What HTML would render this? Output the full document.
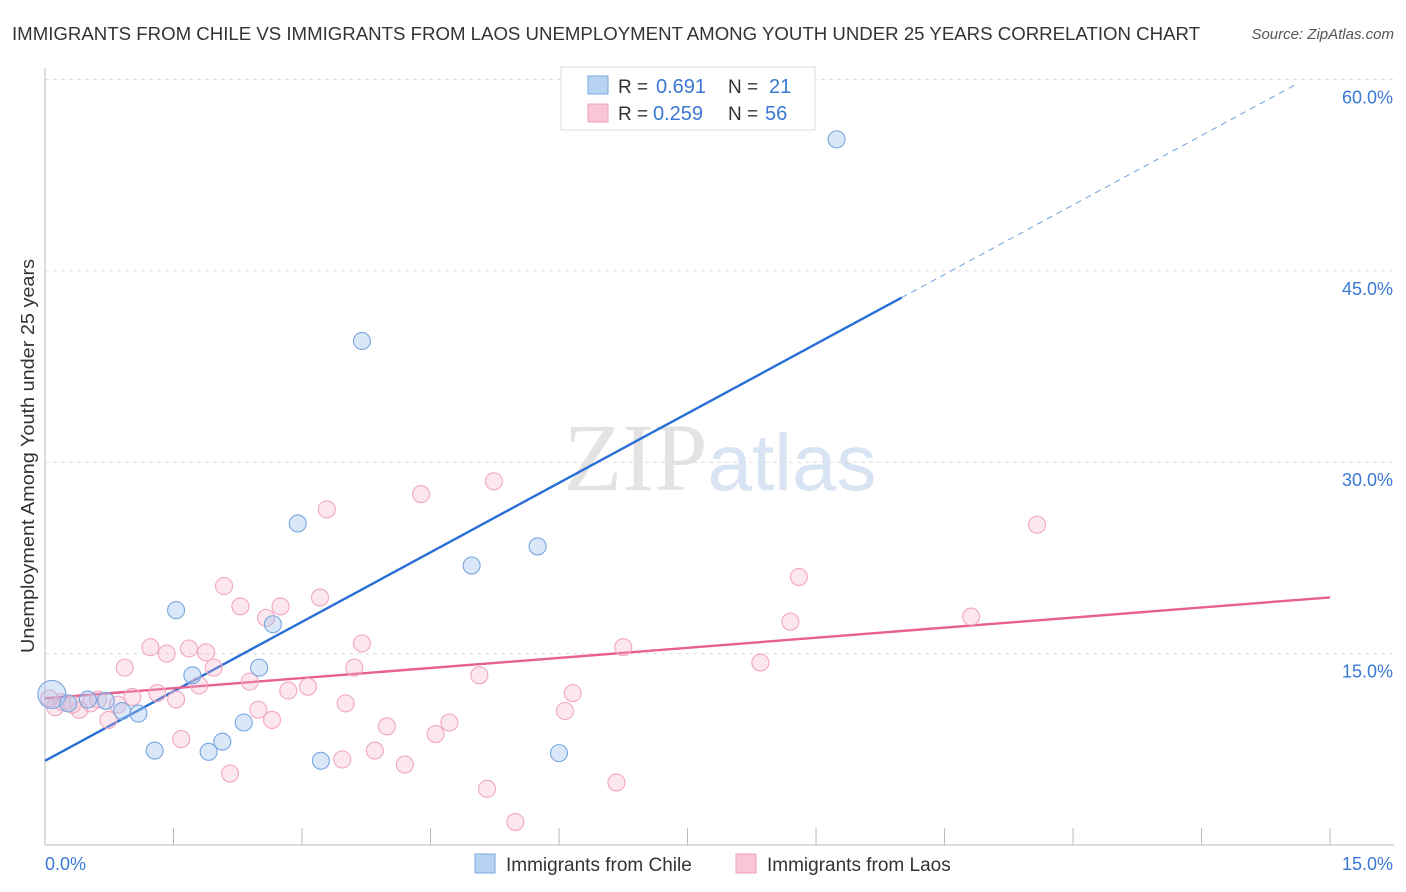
<!DOCTYPE html>
<html><head><meta charset="utf-8"><style>
body{margin:0;background:#fff;font-family:"Liberation Sans",sans-serif;}
svg{display:block}
</style></head><body>
<svg id="chart" width="1406" height="892" xmlns="http://www.w3.org/2000/svg" font-family="Liberation Sans, sans-serif">
<text x="12" y="40" font-size="18" fill="#333" textLength="1188" lengthAdjust="spacingAndGlyphs">IMMIGRANTS FROM CHILE VS IMMIGRANTS FROM LAOS UNEMPLOYMENT AMONG YOUTH UNDER 25 YEARS CORRELATION CHART</text>
<text x="1394" y="39" font-size="15" fill="#555" font-style="italic" text-anchor="end">Source: ZipAtlas.com</text>
<text x="720" y="490" font-size="96" text-anchor="middle" fill="#ddd" opacity="0.7"><tspan font-family="Liberation Serif, serif" fill="#d8d8d8">ZIP</tspan><tspan fill="#c8d8ee" font-size="80">atlas</tspan></text>
<g id="grid"></g><g id="axes"></g><g id="lines"></g><g id="pts"></g>
<text transform="translate(34,456) rotate(-90)" font-size="18" fill="#333" text-anchor="middle" textLength="394" lengthAdjust="spacingAndGlyphs">Unemployment Among Youth under 25 years</text>
<g>
<rect x="561" y="67" width="254" height="63" fill="#fff" stroke="#ddd"/>
<rect x="588" y="76" width="20" height="18" fill="#b8d2f4" stroke="#7aaae0"/>
<rect x="588" y="104" width="20" height="18" fill="#f9c6d6" stroke="#f0a0bb"/>
<text x="618" y="93" font-size="19" fill="#333">R =</text>
<text x="656" y="93" font-size="20" fill="#3a78d4">0.691</text>
<text x="728" y="93" font-size="19" fill="#333">N =</text>
<text x="769" y="93" font-size="20" fill="#3a78d4">21</text>
<text x="618" y="120" font-size="19" fill="#333">R =</text>
<text x="653" y="120" font-size="20" fill="#3a78d4">0.259</text>
<text x="728" y="120" font-size="19" fill="#333">N =</text>
<text x="765" y="120" font-size="20" fill="#3a78d4">56</text>
</g>
<g>
<rect x="475" y="854" width="20" height="19" fill="#b8d2f4" stroke="#7aaae0"/>
<text x="506" y="871" font-size="19" fill="#333">Immigrants from Chile</text>
<rect x="736" y="854" width="20" height="19" fill="#f9c6d6" stroke="#f0a0bb"/>
<text x="767" y="871" font-size="19" fill="#333">Immigrants from Laos</text>
</g>
</svg>
<script>
const yTicks=[15,30,45,60];
const xTickLabels=["0.0%","15.0%"];
const chileX=[0.08,0.27,0.50,0.71,0.90,1.09,1.28,1.53,1.72,1.91,2.07,2.32,2.50,2.66,2.95,3.22,3.70,4.98,5.75,6.00,9.24];
const chileY=[11.8,11.1,11.4,11.3,10.5,10.3,7.4,18.4,13.3,7.3,8.1,9.6,13.9,17.3,25.2,6.6,39.5,21.9,23.4,7.2,55.3];
const laosX=[0.12,0.32,0.53,0.62,0.74,0.93,1.02,1.23,1.31,1.42,1.53,1.59,1.68,1.80,1.88,1.97,2.09,2.16,2.28,2.39,2.49,2.58,2.65,2.75,2.84,3.07,3.21,3.29,3.47,3.51,3.61,3.70,3.85,3.99,4.20,4.39,4.56,4.72,5.07,5.16,5.24,5.49,6.07,6.16,6.67,6.75,8.35,8.70,8.80,10.81,11.58,0.05,0.40,0.20,0.85];
const laosY=[10.8,11.0,11.1,11.4,9.8,13.9,11.6,15.5,11.9,15.0,11.4,8.3,15.4,12.5,15.1,13.9,20.3,5.6,18.7,12.8,10.6,17.8,9.8,18.7,12.1,12.4,19.4,26.3,6.7,11.1,13.9,15.8,7.4,9.3,6.3,27.5,8.7,9.6,13.3,4.4,28.5,1.8,10.5,11.9,4.9,15.5,14.3,17.5,21.0,17.9,25.1,11.5,10.6,11.2,11.0];
const chileFit=[6.6,3.63];
const laosFit=[11.5,0.527];
const X=v=>45+v*85.67, Y=v=>845-v*12.76;
const NS="http://www.w3.org/2000/svg";
function mk(t,a,p){const e=document.createElementNS(NS,t);for(const k in a)e.setAttribute(k,a[k]);document.getElementById(p).appendChild(e);return e;}
yTicks.forEach(t=>{
 const g=mk('line',{x1:45,x2:1394,y1:Y(t),y2:Y(t),stroke:'#ddd','stroke-dasharray':'4,4'},'grid');
 
 
 const l=mk('text',{x:1393,y:Y(t)+24,'font-size':18,fill:'#3a78d4','text-anchor':'end'},'axes');l.textContent=t.toFixed(1)+'%';
 
 
});
mk('line',{x1:45,x2:45,y1:68,y2:845,stroke:'#bbb'},'axes');
mk('line',{x1:45,x2:1394,y1:845,y2:845,stroke:'#bbb'},'axes');
for(let i=0;i<=10;i++){const t=mk('line',{x1:X(i*1.5),x2:X(i*1.5),y1:828,y2:845,stroke:'#bbb'},'axes');
 
 }
const xl0=mk('text',{x:45,y:870,'font-size':18,fill:'#3a78d4'},'axes');xl0.textContent=xTickLabels[0];


const xl1=mk('text',{x:1393,y:870,'font-size':18,fill:'#3a78d4','text-anchor':'end'},'axes');xl1.textContent=xTickLabels[1];


laosX.forEach((x,i)=>{const c=mk('circle',{cx:X(x),cy:Y(laosY[i]),r:8.5,fill:'rgba(246,176,200,0.3)',stroke:'#f2a6c0','stroke-width':1.1},'pts');
 
 });
chileX.forEach((x,i)=>{const c=mk('circle',{cx:X(x),cy:Y(chileY[i]),r:i==0?14:8.5,fill:'rgba(160,196,240,0.4)',stroke:'#78a6de','stroke-width':1.1},'pts');
 
 });
const f=(fit,x)=>fit[0]+fit[1]*x;
const bl=mk('line',{x1:X(0),y1:Y(f(chileFit,0)),x2:X(10),y2:Y(f(chileFit,10)),stroke:'#2a6fd6','stroke-width':2.4},'lines');


const bd=mk('line',{x1:X(10),y1:Y(f(chileFit,10)),x2:X(14.6),y2:Y(f(chileFit,14.6)),stroke:'#6ea0dc','stroke-width':1,'stroke-dasharray':'6,5'},'lines');


const pl=mk('line',{x1:X(0),y1:Y(f(laosFit,0)),x2:X(15),y2:Y(f(laosFit,15)),stroke:'#e8608e','stroke-width':2.4},'lines');


</script>
</body></html>
